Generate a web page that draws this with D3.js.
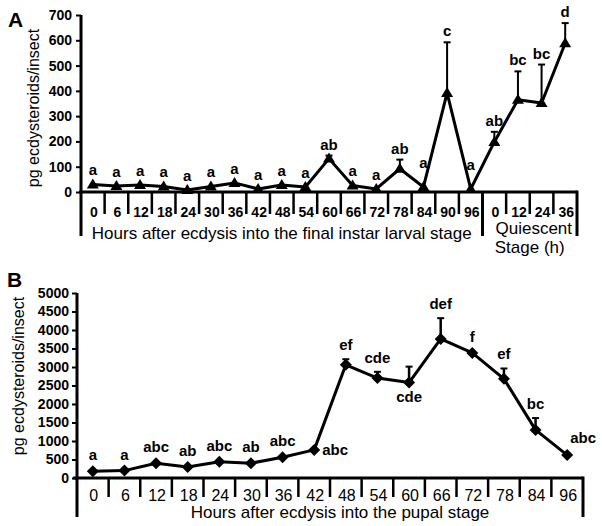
<!DOCTYPE html>
<html><head><meta charset="utf-8">
<script src="https://cdn.jsdelivr.net/npm/d3@7"></script>
<style>
html,body{margin:0;padding:0;background:#fff;}
svg{display:block;font-family:"Liberation Sans",Arial,sans-serif;}
</style></head>
<body>
<svg id="chart" width="602" height="526"></svg>
<script>
// ---------- Panel A data ----------
const larvalHours = [0,6,12,18,24,30,36,42,48,54,60,66,72,78,84,90,96];
const quiescentHours = [0,12,24,36];
const larvalMean = [30,24,28,22,8,22,36,12,28,20,132,26,12,92,20,392,12];
const larvalErr  = [0,0,0,0,0,0,0,0,0,0,12,0,0,36,0,200,0];
const quiescentMean = [198,365,352,588];
const quiescentErr  = [40,112,152,80];
const larvalLetters = ["a","a","a","a","a","a","a","a","a","a","ab","a","a","ab","a","c","a"];
const quiescentLetters = ["ab","bc","bc","d"];
const larvalLetterPlace = ["above","above","above","above","above","above","above","above","above","above","above","above","above","above","high","above","high"];
const quiescentLetterPlace = ["above","above","above","above"];
const yTicksA = [0,100,200,300,400,500,600,700];

// ---------- Panel B data ----------
const pupalHours = [0,6,12,18,24,30,36,42,48,54,60,66,72,78,84,96];
const pupalMean = [180,200,400,300,440,400,560,760,3060,2700,2580,3760,3380,2680,1300,620];
const pupalErr  = [0,0,0,0,0,0,0,0,150,170,430,560,0,280,320,0];
const pupalLetters = ["a","a","abc","ab","abc","ab","abc","abc","ef","cde","cde","def","f","ef","bc","abc"];
const pupalLetterPlace = ["above","above","above","above","above","above","above","right","above","above","below","above","above","above","above","upright"];
const yTicksB = [0,500,1000,1500,2000,2500,3000,3500,4000,4500,5000];

const svg = d3.select("#chart");
const lineW = 3;

function triangle(g, x, y){
  g.append("path").attr("d", `M${x},${y-6}L${x+6},${y+4}L${x-6},${y+4}Z`).attr("fill","#000");
}
function diamond(g, x, y){
  g.append("path").attr("d", `M${x},${y-6}L${x+6},${y}L${x},${y+6}L${x-6},${y}Z`).attr("fill","#000");
}

// ================= PANEL A =================
(function(){
  const keys = larvalHours.map(h=>"L"+h).concat(quiescentHours.map(h=>"Q"+h));
  const labels = larvalHours.concat(quiescentHours);
  const means = larvalMean.concat(quiescentMean);
  const errs = larvalErr.concat(quiescentErr);
  const letters = larvalLetters.concat(quiescentLetters);
  const place = larvalLetterPlace.concat(quiescentLetterPlace);
  const x = d3.scaleBand().domain(keys).range([81,577]).padding(0);
  const y = d3.scaleLinear().domain([0,700]).range([192,15]);
  const g = svg.append("g");

  const ya = g.append("g").attr("transform","translate(81,0)")
    .call(d3.axisLeft(y).tickValues(yTicksA).tickSize(5).tickSizeOuter(0).tickFormat(d3.format("d")));
  ya.select(".domain").remove();
  ya.selectAll(".tick line").attr("stroke","#000").attr("stroke-width",2);
  ya.selectAll(".tick text").attr("x",-9).attr("font-size",14).attr("font-weight","bold")
    .attr("font-family","Liberation Sans, Arial, sans-serif").attr("fill","#000");
  g.append("line").attr("x1",81).attr("x2",81).attr("y1",y(700)).attr("y2",236)
    .attr("stroke","#000").attr("stroke-width",lineW);
  g.append("line").attr("x1",79).attr("x2",577).attr("y1",y(0)).attr("y2",y(0))
    .attr("stroke","#000").attr("stroke-width",lineW);
  keys.forEach((k,i)=>{
    if(i===0) return;
    const xs = x(k);
    const isStageSplit = (i===larvalHours.length);
    g.append("line").attr("x1",xs).attr("x2",xs).attr("y1",y(0)).attr("y2",isStageSplit?236:214)
      .attr("stroke","#000").attr("stroke-width",isStageSplit?lineW:2.5);
  });
  g.append("line").attr("x1",577).attr("x2",577).attr("y1",y(0)-1.5).attr("y2",236)
    .attr("stroke","#000").attr("stroke-width",lineW);
  keys.forEach((k,i)=>{
    g.append("text").attr("x",x(k)+x.bandwidth()/2+1).attr("y",217).attr("text-anchor","middle")
      .attr("font-size",14).attr("font-weight","bold").text(labels[i]);
  });
  const xL0 = x(keys[0]), xL1 = x(keys[larvalHours.length]);
  g.append("text").attr("x",(xL0+xL1)/2).attr("y",239).attr("text-anchor","middle")
    .attr("font-size",17).text("Hours after ecdysis into the final instar larval stage");
  const xQ = (xL1+577)/2;
  g.append("text").attr("x",xQ+4).attr("y",234).attr("text-anchor","middle")
    .attr("font-size",17).text("Quiescent");
  g.append("text").attr("x",xQ).attr("y",253).attr("text-anchor","middle")
    .attr("font-size",17).text("Stage (h)");
  g.append("text").attr("transform","translate(39,108) rotate(-90)").attr("text-anchor","middle")
    .attr("font-size",16).text("pg ecdysteroids/insect");
  g.append("text").attr("x",8).attr("y",27).attr("font-size",21).attr("font-weight","bold").text("A");

  const cx = k => x(k)+x.bandwidth()/2;
  keys.forEach((k,i)=>{
    if(errs[i]<=0) return;
    const x0 = cx(k);
    g.append("line").attr("x1",x0).attr("x2",x0).attr("y1",y(means[i])).attr("y2",y(means[i]+errs[i]))
      .attr("stroke","#000").attr("stroke-width",2);
    g.append("line").attr("x1",x0-3.5).attr("x2",x0+3.5).attr("y1",y(means[i]+errs[i])).attr("y2",y(means[i]+errs[i]))
      .attr("stroke","#000").attr("stroke-width",2);
  });
  const line = d3.line().x((d,i)=>cx(keys[i])).y(d=>y(d));
  g.append("path").datum(means).attr("d",line).attr("fill","none").attr("stroke","#000")
    .attr("stroke-width",lineW).attr("stroke-linejoin","round");
  keys.forEach((k,i)=>triangle(g,cx(k),y(means[i])));
  keys.forEach((k,i)=>{
    let ty;
    if(place[i]==="high") ty = y(means[i]) - 19;
    else if(errs[i]>0) ty = y(means[i]+errs[i]) - 6;
    else ty = y(means[i]) - 9;
    g.append("text").attr("x",cx(k)).attr("y",ty).attr("text-anchor","middle")
      .attr("font-size",15).attr("font-weight","bold").text(letters[i]);
  });
})();

// ================= PANEL B =================
(function(){
  const keys = pupalHours.map(h=>"P"+h);
  const x = d3.scaleBand().domain(keys).range([77,583]).padding(0);
  const y = d3.scaleLinear().domain([0,5000]).range([478,293]);
  const g = svg.append("g");

  const ya = g.append("g").attr("transform","translate(77,0)")
    .call(d3.axisLeft(y).tickValues(yTicksB).tickSize(5).tickSizeOuter(0).tickFormat(d3.format("d")));
  ya.select(".domain").remove();
  ya.selectAll(".tick line").attr("stroke","#000").attr("stroke-width",2);
  ya.selectAll(".tick text").attr("x",-8).attr("font-size",14).attr("font-weight","bold")
    .attr("font-family","Liberation Sans, Arial, sans-serif").attr("fill","#000");
  g.append("line").attr("x1",77).attr("x2",77).attr("y1",y(5000)).attr("y2",517)
    .attr("stroke","#000").attr("stroke-width",lineW);
  g.append("line").attr("x1",73).attr("x2",583).attr("y1",y(0)).attr("y2",y(0))
    .attr("stroke","#000").attr("stroke-width",lineW);
  keys.forEach((k,i)=>{
    if(i===0) return;
    g.append("line").attr("x1",x(k)).attr("x2",x(k)).attr("y1",y(0)).attr("y2",497)
      .attr("stroke","#000").attr("stroke-width",2.5);
  });
  g.append("line").attr("x1",583).attr("x2",583).attr("y1",y(0)-1.5).attr("y2",517)
    .attr("stroke","#000").attr("stroke-width",lineW);
  const cx = k => x(k)+x.bandwidth()/2;
  keys.forEach((k,i)=>{
    g.append("text").attr("x",cx(k)+1).attr("y",501).attr("text-anchor","middle")
      .attr("font-size",16).text(pupalHours[i]);
  });
  g.append("text").attr("x",(77+583)/2+10).attr("y",518).attr("text-anchor","middle")
    .attr("font-size",17).text("Hours after ecdysis into the pupal stage");
  g.append("text").attr("transform","translate(24,376) rotate(-90)").attr("text-anchor","middle")
    .attr("font-size",16).text("pg ecdysteroids/insect");
  g.append("text").attr("x",7).attr("y",287).attr("font-size",21).attr("font-weight","bold").text("B");

  keys.forEach((k,i)=>{
    if(pupalErr[i]<=0) return;
    const x0 = cx(k);
    g.append("line").attr("x1",x0).attr("x2",x0).attr("y1",y(pupalMean[i])).attr("y2",y(pupalMean[i]+pupalErr[i]))
      .attr("stroke","#000").attr("stroke-width",2.5);
    g.append("line").attr("x1",x0-3.5).attr("x2",x0+3.5).attr("y1",y(pupalMean[i]+pupalErr[i])).attr("y2",y(pupalMean[i]+pupalErr[i]))
      .attr("stroke","#000").attr("stroke-width",2);
  });
  const line = d3.line().x((d,i)=>cx(keys[i])).y(d=>y(d));
  g.append("path").datum(pupalMean).attr("d",line).attr("fill","none").attr("stroke","#000")
    .attr("stroke-width",lineW).attr("stroke-linejoin","round");
  keys.forEach((k,i)=>diamond(g,cx(k),y(pupalMean[i])));
  keys.forEach((k,i)=>{
    const px = cx(k), py = y(pupalMean[i]);
    let tx = px, ty, anchor = "middle";
    if(pupalLetterPlace[i]==="right"){ tx = px+8; ty = py+5; anchor = "start"; }
    else if(pupalLetterPlace[i]==="below"){ ty = py+19; }
    else if(pupalLetterPlace[i]==="upright"){ tx = px+16; ty = py-12; }
    else if(pupalErr[i]>0){ ty = y(pupalMean[i]+pupalErr[i]) - 9; }
    else { ty = py - 11; }
    g.append("text").attr("x",tx).attr("y",ty).attr("text-anchor",anchor)
      .attr("font-size",15).attr("font-weight","bold").text(pupalLetters[i]);
  });
})();
</script>
</body></html>
